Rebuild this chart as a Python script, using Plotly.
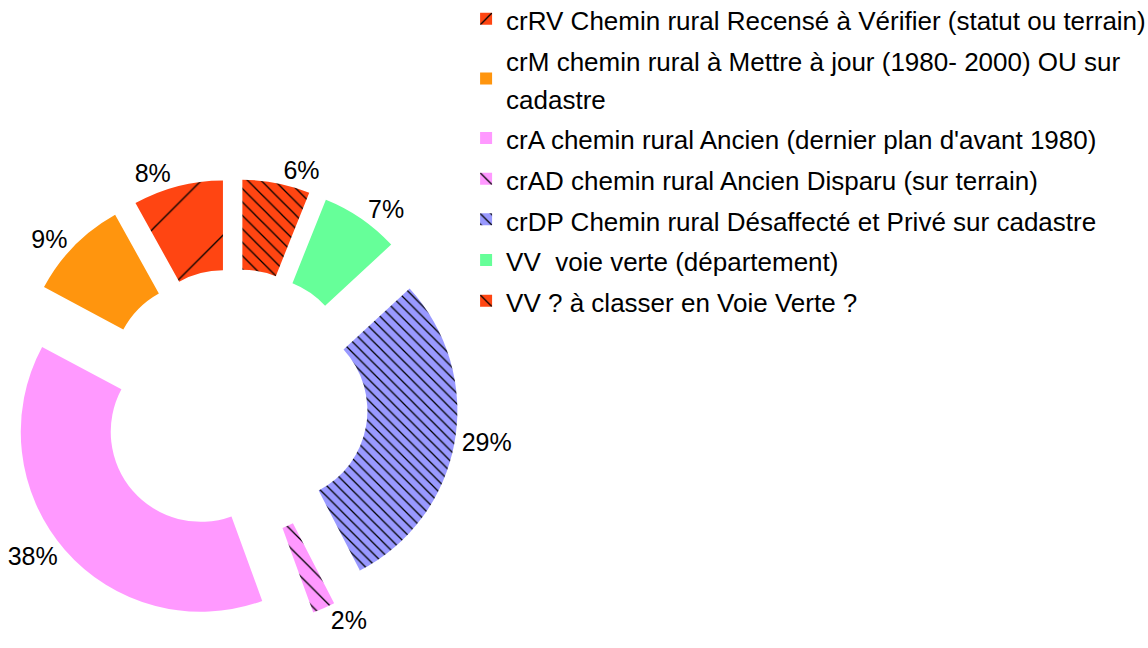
import plotly.graph_objects as go

# Chemin rural categories (legend order) and their share, in percent
labels = [
    "crRV Chemin rural Recensé à Vérifier (statut ou terrain)",
    "crM chemin rural à Mettre à jour (1980- 2000) OU sur<br>cadastre",
    "crA chemin rural Ancien (dernier plan d'avant 1980)",
    "crAD chemin rural Ancien Disparu (sur terrain)",
    "crDP Chemin rural Désaffecté et Privé sur cadastre",
    "VV\u00a0 voie verte (département)",
    "VV ? à classer en Voie Verte ?",
]
values = [8, 9, 38, 2, 29, 7, 6]

colors = ["#FF4512", "#FF950E", "#FF99FF", "#FF99FF", "#9999FF", "#66FF99", "#FF4512"]
hatch = ["/", "", "", "\\", "\\", "", "\\"]
hatch_size = [54, 8, 8, 13, 7.5, 8, 9.5]
hatch_solidity = [0.024, 0.1, 0.1, 0.1, 0.17, 0.1, 0.135]

FONT = "Liberation Sans, Arial, sans-serif"
LEGEND_TEXT_SIZE = 26

# Plotly ends the first slice at `rotation` when going counterclockwise;
# shift it so the first slice starts at 12 o'clock instead.
start_rotation = -360.0 * values[0] / sum(values)

legend_names = [
    f"<span style='font-size:{LEGEND_TEXT_SIZE}px'>{name}</span>" for name in labels
]

fig = go.Figure(
    go.Pie(
        labels=legend_names,
        values=values,
        sort=False,
        direction="counterclockwise",
        rotation=start_rotation,
        hole=0.5,
        pull=[0.245] * len(values),
        marker=dict(
            colors=colors,
            line=dict(width=0),
            pattern=dict(
                shape=hatch,
                size=hatch_size,
                solidity=hatch_solidity,
                fillmode="replace",
                bgcolor=colors,
                fgcolor="black",
            ),
        ),
        texttemplate="%{percent:.0%}",
        textposition="outside",
        outsidetextfont=dict(family=FONT, size=25, color="black"),
        domain=dict(x=[0.0087, 0.399], y=[0.0324, 0.7238]),
    )
)

fig.update_layout(
    width=1148,
    height=648,
    margin=dict(l=0, r=0, t=0, b=0, autoexpand=False),
    paper_bgcolor="white",
    plot_bgcolor="white",
    font=dict(family=FONT, size=25, color="black"),
    showlegend=True,
    legend=dict(
        x=0.406,
        y=1.01,
        xanchor="left",
        yanchor="top",
        font=dict(family=FONT, size=29, color="black"),
        bgcolor="rgba(0,0,0,0)",
    ),
)

fig.write_html("out.html")
